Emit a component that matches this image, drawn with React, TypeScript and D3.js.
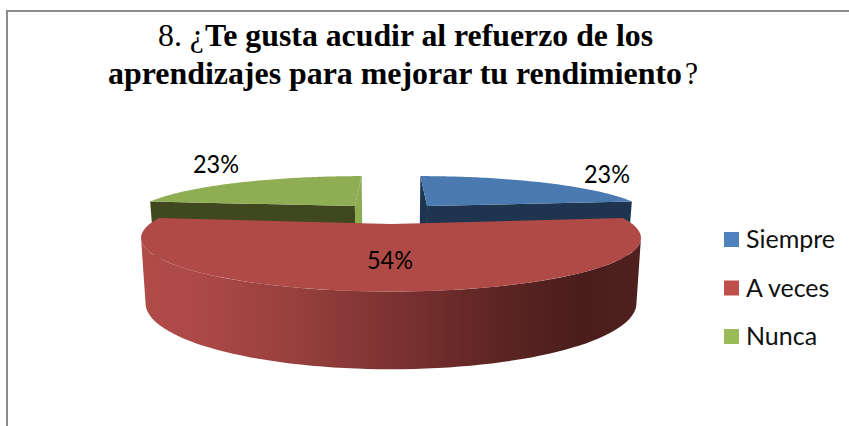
import React from 'react';
import * as d3 from 'd3';

const categories = ['Siempre', 'A veces', 'Nunca'];
const values = [23, 54, 23];
const percentLabels = ['23%', '54%', '23%'];
const topColors = ['#4a7aaf', '#af4a47', '#8fad53'];
const legendColors = ['#4f81bd', '#c0504d', '#9bbb59'];
const wallColors = ['#1f344f', '', '#40481f'];
const radialColors = ['#1e3550', '', '#8dab50'];
const explodeX = [0.165, 0, -0.165];
const explodeY = [0.397, 0, 0.397];
const rimScale = [0.975, 1, 0.975];
const titleFont = '"Liberation Serif", serif';
const bodyFont = 'Lato, "Noto Sans", sans-serif';

const CX = 391;
const K = 0.26;
const topPlane = { w: 241.4, h: 50, y0: 224 };
const backPlane = { w: 241.4, h: 46, y0: 222.6 };
const bottomPlane = { w: 237, h: 61.6, y0: 286 };

type Plane = { w: number; h: number; y0: number };
const project = (plane: Plane, x: number, y: number): [number, number] => {
  const d = 1 + K * y;
  return [CX + (plane.w * x) / d, plane.y0 - (plane.h * y) / d];
};

const pieData = d3.pie<number>().sort(null)(values);

const rim = (plane: Plane, i: number, a0: number, a1: number, n = 72): [number, number][] =>
  d3.range(n + 1).map((s) => {
    const a = a0 + ((a1 - a0) * s) / n;
    return project(plane, explodeX[i] + rimScale[i] * Math.sin(a), explodeY[i] + rimScale[i] * Math.cos(a));
  });
const apex = (plane: Plane, i: number) => project(plane, explodeX[i], explodeY[i]);
const line = d3.line().curve(d3.curveLinearClosed);

const tangent = Math.acos(-K);

export default function App() {
  const back = [0, 2].map((i) => {
    const { startAngle: a0, endAngle: a1 } = pieData[i];
    const inner = i === 0 ? a0 : a1;
    const front = i === 0 ? a1 : a0;
    const point = (plane: Plane, a: number) => rim(plane, i, a, a, 1)[0];
    const topPath = line([apex(backPlane, i), ...rim(backPlane, i, a0, a1)])!;
    const radial = line([
      point(backPlane, inner), apex(backPlane, i), apex(bottomPlane, i), point(bottomPlane, inner),
    ])!;
    const wall = line([
      apex(backPlane, i), point(backPlane, front), point(bottomPlane, front), apex(bottomPlane, i),
    ])!;
    return { i, topPath, radial, wall };
  });
  const redTop = line([apex(topPlane, 1), ...rim(topPlane, 1, pieData[1].startAngle, pieData[1].endAngle)])!;
  const redWall = line([
    ...rim(topPlane, 1, tangent, 2 * Math.PI - tangent),
    ...rim(bottomPlane, 1, 2 * Math.PI - tangent, tangent),
  ])!;

  const title = (x: number, y: number, len: number, s: string, bold: boolean) => (
    <text x={x} y={y} fontFamily={titleFont} fontSize={32} fontWeight={bold ? 'bold' : 'normal'} fill="#000" textLength={len} lengthAdjust="spacingAndGlyphs">{s}</text>
  );
  const pct = (x: number, y: number, s: string) => (
    <text x={x} y={y} textAnchor="middle" fontFamily={bodyFont} fontSize={25} fill="#000" textLength={46} lengthAdjust="spacingAndGlyphs">{s}</text>
  );

  return (
    <svg width={849} height={426} style={{ position: 'fixed', left: 0, top: 0, background: '#fff' }}>
      <defs>
        <linearGradient id="wall" gradientUnits="userSpaceOnUse" x1={141} x2={641} y1={0} y2={0}>
          <stop offset="0" stopColor="#b04b48" />
          <stop offset="0.12" stopColor="#ac4946" />
          <stop offset="0.32" stopColor="#953f3c" />
          <stop offset="0.5" stopColor="#7d3232" />
          <stop offset="0.72" stopColor="#5c2523" />
          <stop offset="0.88" stopColor="#4a1d1c" />
          <stop offset="1" stopColor="#4f201e" />
        </linearGradient>
      </defs>
      <path d="M7 426V11H849" fill="none" stroke="#8c8c8c" strokeWidth={2} />
      {title(158, 46, 46, '8. ¿', false)}
      {title(205, 46, 448, 'Te gusta acudir al refuerzo de los', true)}
      {title(108, 84, 574, 'aprendizajes para mejorar tu rendimiento', true)}
      {title(685, 84, 13, '?', false)}
      {back.map(({ i, topPath, radial, wall }) => (
        <g key={i}>
          <path d={wall} fill={wallColors[i]} />
          <path d={radial} fill={radialColors[i]} />
          <path d={topPath} fill={topColors[i]} />
        </g>
      ))}
      <path d={redWall} fill="url(#wall)" />
      <path d={redTop} fill={topColors[1]} />
      {pct(216, 173, percentLabels[2])}
      {pct(607, 183, percentLabels[0])}
      {pct(390, 269, percentLabels[1])}
      {categories.map((c, i) => (
        <g key={c} transform={`translate(724,${232 + i * 48.5})`}>
          <rect width={15} height={15} fill={legendColors[i]} />
          <text x={22} y={16} fontFamily={bodyFont} fontSize={25} fill="#111">{c}</text>
        </g>
      ))}
    </svg>
  );
}
